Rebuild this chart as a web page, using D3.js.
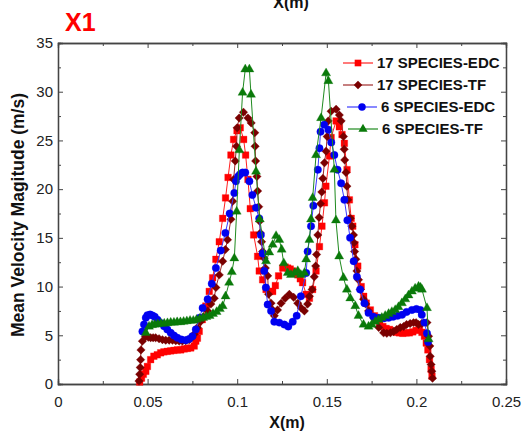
<!DOCTYPE html>
<html>
<head>
<meta charset="utf-8">
<script src="https://cdn.jsdelivr.net/npm/d3@7"></script>
<style>
body{margin:0;background:#fff;}
svg{display:block;font-family:"Liberation Sans",Arial,sans-serif;}
</style>
</head>
<body>
<svg id="chart" width="532" height="431"></svg>
<script>
// ---- data: [X (m), velocity (m/s)] ----
const seriesNames = ["17 SPECIES-EDC", "17 SPECIES-TF", "6 SPECIES-EDC", "6 SPECIES-TF"];
const xTicks = [0, 0.05, 0.1, 0.15, 0.2, 0.25];
const xTickLabels = ["0", "0.05", "0.1", "0.15", "0.2", "0.25"];
const yTicks = [0, 5, 10, 15, 20, 25, 30, 35];

const edc17 = [
[0.0456,0.2],[0.0466,0.6],[0.0476,1.0],[0.0490,1.3],[0.0499,1.8],[0.0517,2.5],[0.0535,2.85],[0.0554,3.0],[0.0573,3.2],[0.0591,3.3],[0.0610,3.35],[0.0629,3.4],[0.0647,3.45],[0.0666,3.5],[0.0685,3.5],[0.0704,3.6],[0.0722,3.65],[0.0741,3.7],[0.0760,3.9],[0.0769,4.4],[0.0778,4.7],[0.0788,5.4],[0.0805,6.6],
[0.0825,8.0],[0.0844,9.5],[0.0863,10.9],[0.0881,12.8],[0.0900,14.6],[0.0919,17.0],[0.0935,19.1],
[0.0949,21.2],[0.0965,23.5],[0.0980,25.1],[0.0999,26.0],[0.1017,26.3],[0.1036,25.1],[0.1047,23.5],[0.1060,21.0],[0.1073,18.0],[0.1092,15.3],
[0.1114,13.1],[0.1123,11.6],[0.1142,10.7],[0.1161,9.7],[0.1180,9.5],[0.1198,9.5],[0.1213,10.1],[0.1231,11.1],[0.1254,11.9],[0.1268,12.0],[0.1282,11.9],[0.1296,11.8],[0.1310,11.6],[0.1324,11.4],[0.1338,11.2],[0.1352,10.8],[0.1365,10.4],[0.1385,9.2],[0.1403,8.8],[0.1421,9.7],[0.1440,11.6],[0.1459,14.1],[0.1473,16.2],[0.1487,18.6],
[0.1495,20.3],[0.1515,23.4],[0.1524,25.3],[0.1552,27.0],[0.1570,26.4],[0.1585,25.6],[0.1598,24.7],[0.1613,22.0],[0.1626,18.9],[0.1636,17.0],[0.1645,16.2],
[0.1657,14.3],[0.1673,12.1],[0.1692,10.0],[0.1706,9.0],[0.1720,8.3],[0.1743,7.6],[0.1766,7.0],[0.1780,6.5],[0.1795,6.1],[0.1813,5.9],[0.1831,5.7],[0.1850,5.6],[0.1868,5.45],[0.1887,5.3],[0.1905,5.25],[0.1924,5.2],[0.1943,5.25],[0.1961,5.25],[0.1980,5.35],[0.1998,5.5],[0.2017,5.6],[0.2031,5.3],[0.2045,4.9],[0.2055,4.2],[0.2064,3.5],[0.2073,2.5],[0.2082,1.5],[0.2087,0.8]
];

const tf17 = [
[0.0452,0.3],[0.0456,1.0],[0.0459,1.7],[0.0461,2.5],[0.0463,3.5],[0.0471,4.4],[0.0488,4.85],[0.0504,4.8],[0.0517,4.75],[0.0531,4.75],[0.0545,4.75],[0.0564,4.65],[0.0583,4.55],[0.0601,4.5],[0.0620,4.5],[0.0639,4.5],[0.0657,4.45],[0.0676,4.4],[0.0694,4.4],[0.0713,4.45],[0.0732,4.55],[0.0748,4.8],[0.0760,5.1],[0.0778,5.8],[0.0795,6.4],[0.0812,6.9],
[0.0835,7.5],[0.0853,8.2],[0.0872,8.8],[0.0881,9.9],[0.0900,11.2],[0.0919,12.6],[0.0934,13.8],[0.0946,14.8],[0.0965,16.9],[0.0975,18.75],
[0.0980,21.0],[0.0989,22.9],[0.0996,24.4],[0.1000,26.3],[0.1011,27.3],[0.1035,27.9],[0.1060,27.3],[0.1078,26.8],[0.1098,25.8],[0.1100,24.4],[0.1103,22.9],[0.1110,21.3],[0.1114,19.8],[0.1120,18.2],[0.1125,16.7],
[0.1129,15.5],[0.1136,14.6],[0.1142,13.6],[0.1151,12.9],[0.1157,11.9],[0.1170,11.1],[0.1175,9.2],[0.1189,8.3],[0.1198,7.6],[0.1207,7.0],[0.1225,7.6],[0.1245,8.3],[0.1268,8.8],[0.1291,9.2],[0.1315,8.9],[0.1338,8.3],[0.1357,7.8],[0.1375,7.5],[0.1393,8.2],[0.1403,9.0],[0.1418,9.7],[0.1430,11.0],[0.1438,12.1],[0.1443,13.3],[0.1450,15.3],[0.1457,17.1],[0.1465,18.5],[0.1472,19.7],[0.1478,21.1],[0.1487,22.7],[0.1496,23.9],[0.1502,25.4],[0.1508,27.0],[0.1524,28.0],[0.1552,28.2],[0.1570,27.6],[0.1580,27.0],[0.1593,25.4],[0.1597,24.1],[0.1600,23.0],[0.1607,21.7],[0.1612,20.3],[0.1617,18.9],[0.1631,17.0],[0.1640,16.2],[0.1649,15.3],[0.1652,14.5],[0.1655,13.6],[0.1662,12.8],[0.1668,11.6],[0.1677,10.7],[0.1687,9.7],[0.1705,8.7],[0.1718,8.2],[0.1733,7.5],[0.1761,6.8],[0.1790,5.8],[0.1817,5.25],[0.1835,5.2],[0.1855,5.25],[0.1873,5.4],[0.1890,5.6],[0.1910,5.8],[0.1929,5.9],[0.1945,6.1],[0.1965,6.2],[0.1984,6.3],[0.1998,6.3],[0.2012,6.1],[0.2030,6.2],[0.2059,6.3],[0.2068,4.9],[0.2075,3.9],[0.2077,2.85],[0.2082,2.0],[0.2086,1.3],[0.2090,0.6]
];

const edc6 = [
[0.0471,5.4],[0.0480,6.1],[0.0490,6.8],[0.0499,7.06],[0.0514,7.13],[0.0527,7.03],[0.0540,6.9],[0.0555,6.6],[0.0573,6.27],[0.0592,5.93],[0.0610,5.6],[0.0629,5.25],[0.0647,4.97],[0.0666,4.74],[0.0689,4.56],[0.0713,4.5],[0.0732,4.63],[0.0750,4.9],[0.0769,5.6],[0.0790,6.8],[0.0807,7.8],[0.0835,8.7],[0.0858,10.3],[0.0881,11.9],[0.0908,13.7],[0.0934,15.5],[0.0958,17.5],[0.0984,19.6],[0.0993,20.8],[0.1005,21.3],[0.1015,21.5],[0.1030,21.7],[0.1045,21.7],[0.1068,20.8],[0.1085,19.4],[0.1105,18.1],[0.1123,17.0],[0.1132,15.3],[0.1142,13.4],[0.1151,11.6],[0.1160,9.9],[0.1170,8.15],[0.1189,7.5],[0.1207,6.4],[0.1235,6.3],[0.1263,6.1],[0.1285,5.9],[0.1310,6.4],[0.1332,7.0],[0.1355,9.0],[0.1385,11.4],[0.1393,13.6],[0.1412,16.2],[0.1425,18.3],[0.1450,22.0],[0.1459,24.2],[0.1465,25.9],[0.1485,26.6],[0.1509,26.1],[0.1525,24.8],[0.1542,23.5],[0.1560,22.0],[0.1580,20.6],[0.1598,18.9],[0.1615,16.8],[0.1630,15.0],[0.1650,12.6],[0.1668,11.0],[0.1686,9.7],[0.1710,8.3],[0.1733,7.3],[0.1760,6.9],[0.1790,6.8],[0.1820,6.75],[0.1845,6.8],[0.1870,6.9],[0.1895,7.0],[0.1920,7.1],[0.1945,7.4],[0.1975,7.6],[0.2000,7.7],[0.2022,7.6],[0.2030,7.1],[0.2045,6.3],[0.2059,5.2],[0.2065,4.3]
];

const tf6 = [
[0.0490,5.25],[0.0508,5.9],[0.0525,6.05],[0.0540,6.1],[0.0557,6.15],[0.0575,6.2],[0.0593,6.2],[0.0611,6.25],[0.0629,6.3],[0.0647,6.3],[0.0665,6.35],[0.0683,6.35],[0.0701,6.4],[0.0719,6.45],[0.0737,6.5],[0.0755,6.5],[0.0773,6.6],[0.0791,6.7],[0.0810,6.8],[0.0828,6.9],[0.0846,7.0],[0.0865,7.2],[0.0885,7.4],[0.0903,7.7],[0.0919,8.0],[0.0935,9.0],[0.0955,10.4],[0.0970,11.5],[0.0984,12.9],[0.0997,17.7],[0.1012,24.0],[0.1030,29.9],[0.1045,32.3],[0.1068,32.3],[0.1077,29.7],[0.1105,21.8],[0.1126,16.9],[0.1161,12.6],[0.1179,13.5],[0.1198,14.3],[0.1217,15.2],[0.1235,14.8],[0.1248,13.8],[0.1260,12.4],[0.1282,11.4],[0.1300,11.2],[0.1320,11.4],[0.1338,11.6],[0.1355,11.2],[0.1375,11.4],[0.1385,12.8],[0.1403,14.8],[0.1412,16.9],[0.1421,19.1],[0.1440,23.5],[0.1468,27.3],[0.1496,31.9],[0.1509,31.1],[0.1542,22.0],[0.1551,16.8],[0.1569,13.1],[0.1593,10.9],[0.1612,9.7],[0.1631,8.8],[0.1659,8.0],[0.1677,7.0],[0.1705,6.1],[0.1733,5.9],[0.1751,6.1],[0.1770,6.4],[0.1788,6.6],[0.1807,6.8],[0.1826,7.0],[0.1845,7.2],[0.1863,7.4],[0.1882,7.6],[0.1900,7.9],[0.1919,8.3],[0.1938,8.7],[0.1956,9.1],[0.1975,9.5],[0.1993,9.8],[0.2012,10.0],[0.2023,9.9],[0.2031,9.7],[0.2059,7.8],[0.2068,4.6]
];

// ---- layout ----
const svg = d3.select("#chart");
const margin = {top: 43, right: 26, bottom: 47, left: 58};
const width = +svg.attr("width") - margin.left - margin.right;
const height = +svg.attr("height") - margin.top - margin.bottom;
const g = svg.append("g").attr("transform", "translate(" + margin.left + "," + margin.top + ")");

const x = d3.scaleLinear().domain([0, 0.25]).range([0, width]);
const y = d3.scaleLinear().domain([0, 35]).range([height, 0]);

const xMinor = xTicks.slice(0, -1).map(t => t + 0.025);
const yMinor = yTicks.slice(0, -1).map(t => t + 2.5);

const series = [
	{name: seriesNames[0], data: edc17, line: "#ff2020", fill: "#ff0000", shape: "square"},
	{name: seriesNames[1], data: tf17, line: "#a02a2a", fill: "#7a0000", shape: "diamond"},
	{name: seriesNames[2], data: edc6, line: "#3a3aff", fill: "#0000f0", shape: "circle"},
	{name: seriesNames[3], data: tf6, line: "#1f8a1f", fill: "#0a7a0a", shape: "triangle"}
];
const symbols = {
	square: d3.symbol().type(d3.symbolSquare).size(44),
	diamond: d3.symbol().type(d3.symbolSquare).size(36),
	circle: d3.symbol().type(d3.symbolCircle).size(44),
	triangle: d3.symbol().type(d3.symbolTriangle).size(36)
};

// axes: ticks point inward on all four sides
function styleAxis(sel){
	sel.select(".domain").attr("stroke", "#444").attr("stroke-width", 1.3);
	sel.selectAll(".tick line").attr("stroke", "#444");
	sel.selectAll(".tick text").attr("fill", "#222").style("font-size", "15px");
}
g.append("g").attr("transform", "translate(0," + height + ")")
	.call(d3.axisBottom(x).tickValues(xTicks).tickFormat((d, i) => xTickLabels[i]).tickSize(-5).tickPadding(12))
	.call(styleAxis);
g.append("g").attr("transform", "translate(0," + height + ")")
	.call(d3.axisBottom(x).tickValues(xMinor).tickFormat("").tickSize(-3))
	.call(styleAxis);
g.append("g")
	.call(d3.axisTop(x).tickValues(xTicks).tickFormat("").tickSize(-5))
	.call(styleAxis);
g.append("g")
	.call(d3.axisTop(x).tickValues(xMinor).tickFormat("").tickSize(-3))
	.call(styleAxis);
g.append("g")
	.call(d3.axisLeft(y).tickValues(yTicks).tickSize(-5).tickPadding(5))
	.call(styleAxis);
g.append("g")
	.call(d3.axisLeft(y).tickValues(yMinor).tickFormat("").tickSize(-3))
	.call(styleAxis);
g.append("g").attr("transform", "translate(" + width + ",0)")
	.call(d3.axisRight(y).tickValues(yTicks).tickFormat("").tickSize(-5))
	.call(styleAxis);
g.append("g").attr("transform", "translate(" + width + ",0)")
	.call(d3.axisRight(y).tickValues(yMinor).tickFormat("").tickSize(-3))
	.call(styleAxis);
g.selectAll(".domain").attr("fill", "none");

// series
const line = d3.line().x(d => x(d[0])).y(d => y(d[1]));
series.forEach(s => {
	const sg = g.append("g");
	sg.append("path").datum(s.data)
		.attr("d", line)
		.attr("fill", "none")
		.attr("stroke", s.line)
		.attr("stroke-width", 1);
	sg.selectAll("path.pt").data(s.data).enter().append("path")
		.attr("class", "pt")
		.attr("d", symbols[s.shape])
		.attr("transform", d => "translate(" + x(d[0]) + "," + y(d[1]) + ")" + (s.shape === "diamond" ? " rotate(45)" : ""))
		.attr("fill", s.fill)
		.attr("stroke", s.fill)
		.attr("stroke-width", 0.5)
		.attr("stroke-opacity", 0.6);
});

// legend
const legendRows = [63, 85, 107, 129];
const legendShift = [0, 0, 4, 5];
const legend = svg.append("g")
	.selectAll("g")
	.data(series)
	.enter().append("g")
	.attr("transform", (d, i) => "translate(" + (343 + legendShift[i]) + "," + legendRows[i] + ")");
legend.append("line")
	.attr("x1", 0).attr("x2", 30)
	.attr("stroke", d => d.line).attr("stroke-width", 1.2);
legend.append("path")
	.attr("d", d => symbols[d.shape]())
	.attr("transform", d => "translate(15,0)" + (d.shape === "diamond" ? " rotate(45)" : ""))
	.attr("fill", d => d.fill);
legend.append("text")
	.attr("x", 34)
	.attr("dy", "0.36em")
	.attr("fill", "#111")
	.style("font-size", "15px")
	.style("font-weight", "bold")
	.text(d => d.name);

// titles
svg.append("text")
	.attr("x", 287).attr("y", 428)
	.attr("text-anchor", "middle")
	.style("font-size", "16px").style("font-weight", "bold").attr("fill", "#111")
	.text("X(m)");
svg.append("text")
	.attr("x", 291).attr("y", 8)
	.attr("text-anchor", "middle")
	.style("font-size", "16px").style("font-weight", "bold").attr("fill", "#111")
	.text("X(m)");
svg.append("text")
	.attr("transform", "translate(24,215) rotate(-90)")
	.attr("text-anchor", "middle")
	.style("font-size", "17.5px").style("font-weight", "bold").attr("fill", "#111")
	.text("Mean Velocity Magitude (m/s)");
svg.append("text")
	.attr("x", 65).attr("y", 31)
	.style("font-size", "25px").style("font-weight", "bold").attr("fill", "#ff0000")
	.text("X1");
</script>
</body>
</html>
